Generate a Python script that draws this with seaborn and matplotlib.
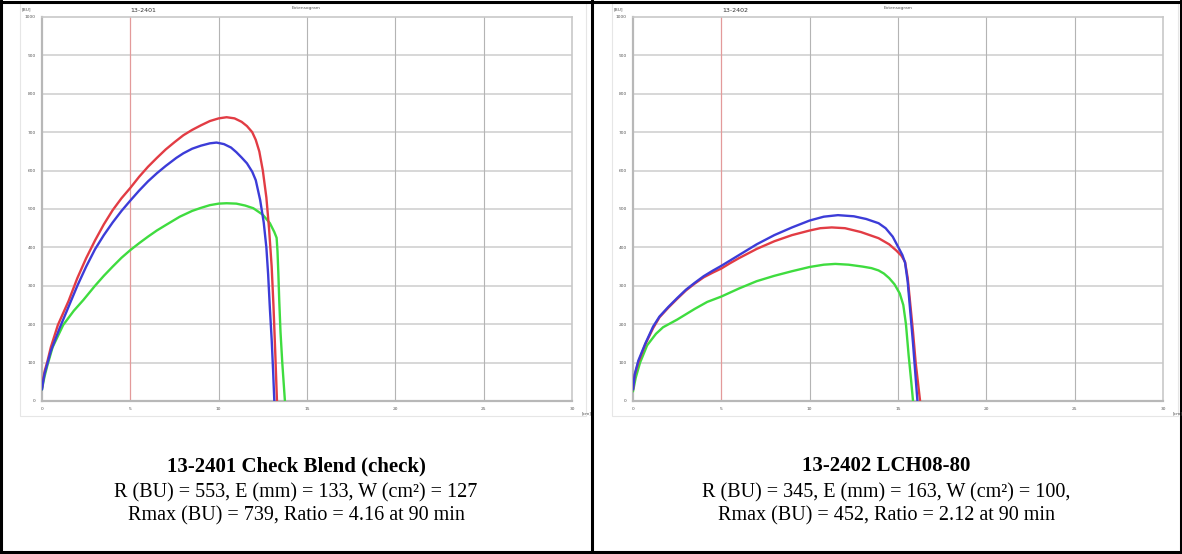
import numpy as np
import pandas as pd
import matplotlib
matplotlib.use("Agg")
import matplotlib.pyplot as plt
import seaborn as sns
from matplotlib.lines import Line2D
from matplotlib.patches import Rectangle

# ---------------- data ----------------
series_names = ["Green", "Red", "Blue"]
series_colors = {"Green": "#3fdc3f", "Red": "#e23c44", "Blue": "#3c3cd8"}

x_ticks = [0, 5, 10, 15, 20, 25, 30]
y_ticks = [0, 100, 200, 300, 400, 500, 600, 700, 800, 900, 1000]

# Left panel: 13-2401
l_red_x = [0, 0.08, 0.15, 0.3, 0.5, 0.9, 1.5, 2.0, 2.5, 3.0, 3.5, 4.0, 4.5, 5.0, 5.5, 6.0, 6.5, 7.0, 7.5, 8.0, 8.5, 9.0, 9.5, 10.0, 10.45, 10.9, 11.3, 11.6, 11.9, 12.1, 12.3, 12.5, 12.7, 12.85, 13.0, 13.1, 13.2, 13.3]
l_red_y = [35, 60, 78, 102, 140, 198, 260, 320, 372, 418, 460, 497, 528, 555, 584, 610, 633, 655, 674, 692, 706, 718, 729, 736, 739, 736, 727, 716, 700, 680, 650, 600, 530, 450, 350, 250, 130, 0]
l_blue_x = [0, 0.08, 0.15, 0.3, 0.5, 1.0, 1.5, 2.0, 2.5, 3.0, 3.5, 4.0, 4.5, 5.0, 5.5, 6.0, 6.5, 7.0, 7.6, 8.0, 8.5, 9.0, 9.5, 9.88, 10.3, 10.7, 11.0, 11.3, 11.6, 11.9, 12.1, 12.35, 12.55, 12.7, 12.8, 12.9, 13.0, 13.08, 13.15]
l_blue_y = [30, 55, 72, 97, 130, 190, 245, 300, 350, 395, 432, 465, 495, 522, 548, 572, 593, 612, 633, 645, 657, 665, 671, 673, 669, 660, 648, 634, 619, 597, 575, 523, 465, 400, 330, 240, 160, 80, 0]
l_green_x = [0, 0.08, 0.15, 0.3, 0.6, 1.2, 1.8, 2.34, 3.0, 3.5, 4.0, 4.5, 5.0, 5.5, 6.0, 6.5, 7.0, 7.8, 8.5, 9.0, 9.5, 10.0, 10.45, 11.0, 11.5, 11.96, 12.5, 12.9, 13.15, 13.28, 13.33, 13.38, 13.43, 13.5, 13.6, 13.75]
l_green_y = [30, 50, 65, 92, 140, 198, 235, 263, 300, 326, 350, 373, 393, 411, 428, 444, 458, 480, 495, 503, 510, 514, 515, 514, 509, 502, 485, 463, 440, 425, 390, 330, 260, 180, 100, 0]

# Right panel: 13-2402
r_red_x = [0, 0.1, 0.3, 0.7, 1.14, 1.5, 2.0, 2.5, 3.0, 3.5, 4.0, 4.5, 5.0, 5.5, 6.0, 7.0, 8.0, 9.0, 10.0, 10.6, 11.25, 12.0, 12.9, 13.9, 14.5, 14.9, 15.2, 15.4, 15.55, 15.7, 15.85, 16.0, 16.25]
r_red_y = [30, 68, 100, 148, 190, 218, 243, 266, 288, 306, 322, 334, 345, 359, 372, 396, 416, 432, 444, 450, 452, 450, 440, 424, 408, 392, 378, 362, 320, 250, 180, 100, 0]
r_blue_x = [0, 0.1, 0.3, 0.7, 1.14, 1.5, 2.0, 2.5, 3.0, 3.5, 4.0, 4.5, 5.0, 5.5, 6.0, 7.0, 8.0, 9.0, 10.0, 10.8, 11.6, 12.5, 13.2, 13.9, 14.3, 14.7, 15.0, 15.25, 15.4, 15.55, 15.7, 15.85, 16.0, 16.1]
r_blue_y = [30, 70, 105, 150, 194, 220, 245, 268, 290, 308, 325, 339, 352, 366, 380, 408, 432, 452, 470, 480, 484, 481, 474, 463, 450, 428, 402, 380, 360, 310, 230, 150, 60, 0]
r_green_x = [0, 0.15, 0.4, 0.8, 1.3, 1.7, 2.1, 2.5, 3.0, 3.5, 4.2, 5.0, 6.0, 7.0, 8.0, 9.0, 10.0, 10.8, 11.45, 12.2, 13.0, 13.5, 13.9, 14.2, 14.5, 14.8, 15.1, 15.3, 15.45, 15.6, 15.75, 15.85]
r_green_y = [25, 60, 100, 145, 175, 192, 202, 212, 226, 240, 258, 272, 293, 312, 326, 338, 349, 355, 357, 355, 350, 346, 340, 332, 320, 304, 280, 250, 200, 120, 50, 0]

left_title = "13-2401"
right_title = "13-2402"
left_caption = ["13-2401 Check Blend (check)",
                "R (BU) = 553, E (mm) = 133, W (cm²) = 127",
                "Rmax (BU) = 739, Ratio = 4.16 at 90 min"]
right_caption = ["13-2402 LCH08-80",
                 "R (BU) = 345, E (mm) = 163, W (cm²) = 100,",
                 "Rmax (BU) = 452, Ratio = 2.12 at 90 min"]


def make_df(gx, gy, rx, ry, bx, by):
    parts = []
    for name, xs, ys in (("Green", gx, gy), ("Red", rx, ry), ("Blue", bx, by)):
        parts.append(pd.DataFrame({"x": xs, "y": ys, "series": name}))
    return pd.concat(parts, ignore_index=True)


left_df = make_df(l_green_x, l_green_y, l_red_x, l_red_y, l_blue_x, l_blue_y)
right_df = make_df(r_green_x, r_green_y, r_red_x, r_red_y, r_blue_x, r_blue_y)

# ---------------- figure ----------------
W, H = 1182, 554
sns.set_style("white")
plt.rcParams["font.family"] = ["DejaVu Sans"]

fig = plt.figure(figsize=(W / 100, H / 100), dpi=100)
fig.patch.set_facecolor("white")


def fx(px):
    return px / W


def fy(py):
    return 1 - py / H


def panel(x0, df, title, cell_left):
    # faint frame of the embedded screenshot
    fig.add_artist(Rectangle((fx(cell_left + 20), fy(416)), fx(566), 413 / H,
                             transform=fig.transFigure, fill=False,
                             edgecolor="#e6e6e6", lw=0.8))
    ax = fig.add_axes([fx(x0), fy(401), fx(530), 384 / H])
    ax.set_facecolor("white")
    ax.set_xlim(0, 30)
    ax.set_ylim(0, 1000)
    for yv in y_ticks[1:-1]:
        ax.axhline(yv, color="#d4d4d4", lw=1.3, zorder=0)
    for xv in x_ticks[2:-1]:
        ax.axvline(xv, color="#b4b4b4", lw=0.8, zorder=0)
    ax.axvline(5, color="#e39a9a", lw=0.9, zorder=1)
    sns.lineplot(data=df, x="x", y="y", hue="series", hue_order=series_names,
                 palette=series_colors, sort=False, estimator=None,
                 units="series", legend=False, ax=ax, linewidth=1.7, zorder=3)
    ax.set_xticks(x_ticks)
    ax.set_xticklabels([str(v) for v in x_ticks])
    ax.set_yticks(y_ticks)
    ax.set_yticklabels([str(v) for v in y_ticks])
    ax.tick_params(axis="both", labelsize=3.2, colors="#8a8a8a", length=2.5,
                   width=0.6, pad=2, labelcolor="#555555")
    ax.set_xlabel("")
    ax.set_ylabel("")
    for s in ("left", "bottom"):
        ax.spines[s].set_color("#b8b8b8")
        ax.spines[s].set_linewidth(1.6)
    for s in ("top", "right"):
        ax.spines[s].set_color("#c8c8c8")
        ax.spines[s].set_linewidth(1.2)
    fig.text(fx(cell_left + 22), fy(9), "[BU]", fontsize=3.2, color="#555555",
             ha="left", va="center")
    fig.text(fx(cell_left + 143), fy(10), title, fontsize=4.5, color="#333333",
             ha="center", va="center")
    fig.text(fx(cell_left + 306), fy(8), "Extensogram", fontsize=3.2,
             color="#555555", ha="center", va="center")
    fig.text(fx(x0 + 540), fy(413), "[cm]", fontsize=3.2, color="#555555",
             ha="left", va="center")
    return ax


panel(42, left_df, left_title, 0)
panel(633, right_df, right_title, 592)

serif = ["Liberation Serif", "DejaVu Serif"]
for cx, cap in ((296, left_caption), (886, right_caption)):
    fig.text(fx(cx), fy(471), cap[0], family=serif, fontsize=15,
             fontweight="bold", ha="center", va="baseline", color="black")
    fig.text(fx(cx), fy(497), cap[1], family=serif, fontsize=14.5,
             ha="center", va="baseline", color="black")
    fig.text(fx(cx), fy(520), cap[2], family=serif, fontsize=14.5,
             ha="center", va="baseline", color="black")

# table borders
blw = 2.2
for (x1, y1, x2, y2) in ((0, 1.5, W, 1.5), (0, 551.5, W, 551.5),
                         (1.5, 0, 1.5, H), (1180.5, 0, 1180.5, H),
                         (592, 0, 592, H)):
    fig.add_artist(Line2D([fx(x1), fx(x2)], [fy(y1), fy(y2)],
                          transform=fig.transFigure, color="black", lw=blw))

fig.savefig("out.png", dpi=100, facecolor="white")
